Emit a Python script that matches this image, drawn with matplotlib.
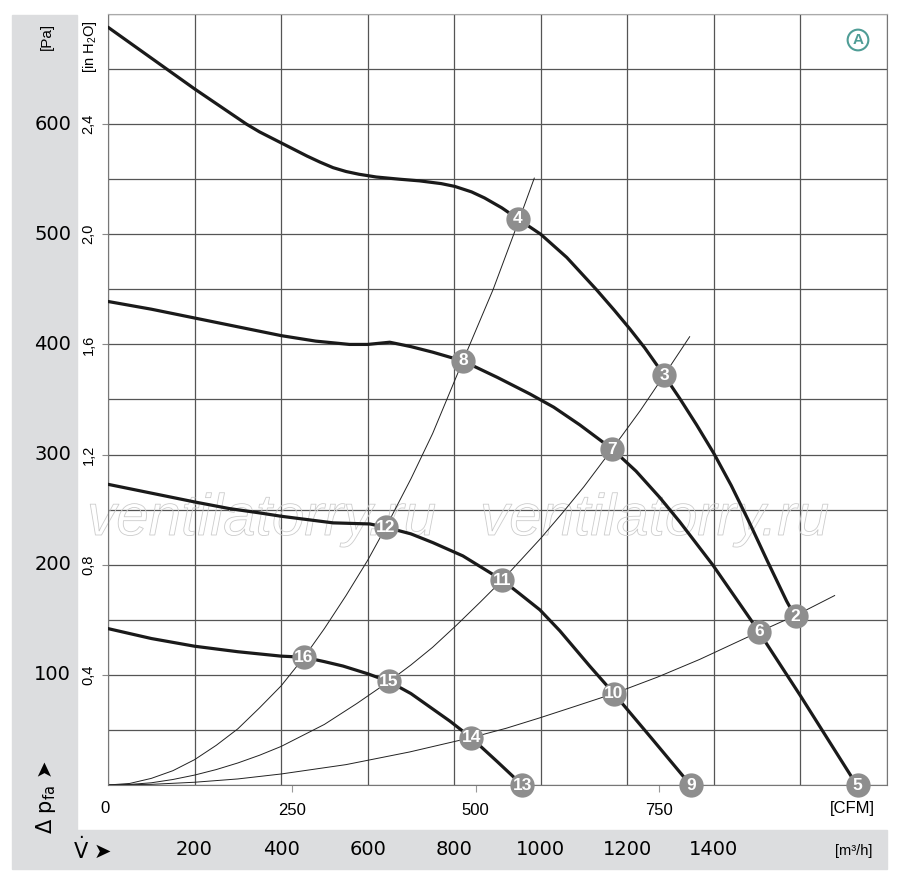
import matplotlib
matplotlib.use("Agg")
import matplotlib.pyplot as plt
import matplotlib.transforms as mtransforms
import matplotlib.patheffects as pe
from matplotlib.patches import Rectangle
from matplotlib.ticker import MultipleLocator

# fan curves, flow in m3/h, pressure in Pa
q1 = [0, 100, 200, 260, 320, 350, 380, 420, 460, 490, 520, 550, 580, 620, 674, 720, 740, 770, 801, 840,
      870, 910, 947, 1000, 1060, 1128, 1170, 1206, 1240, 1285, 1321, 1360, 1400, 1440, 1480, 1524, 1568, 1589]
p1 = [688, 660, 632, 616, 600, 593, 587, 579, 571, 565.5, 560.5, 557, 554.5, 552, 550, 548.5, 547.5, 546,
      543.5, 538.5, 533, 524, 514, 500, 479, 450, 431, 414, 397, 372, 351, 327, 301, 272, 240, 203, 167, 152]

q2 = [0, 100, 200, 300, 400, 480, 558, 600, 651, 700, 750, 820, 900, 975, 1030, 1090, 1165, 1220, 1275,
      1321, 1397, 1450, 1487, 1504, 1600, 1730]
p2 = [439, 432, 424, 416, 408, 403, 400, 400, 402, 398, 393, 385, 370, 355, 343, 327, 305, 285, 261,
      239, 200, 170, 149, 139, 81, 0]

q3 = [0, 100, 200, 280, 351, 400, 460, 520, 605, 642, 700, 751, 820, 882, 911, 950, 998, 1044, 1113,
      1169, 1259, 1346]
p3 = [273, 265, 257, 251, 247, 244, 241, 238, 237, 234, 228, 220, 208, 193, 186, 174, 159, 140, 108,
      83, 41, 0]

q4 = [0, 100, 200, 300, 400, 453, 500, 543, 600, 649, 700, 736, 790, 839, 900, 957]
p4 = [142, 133, 126, 121, 117, 116, 112, 108, 101, 94, 83, 73, 58, 43, 21, 0]

# system resistance curves
qs1 = [0, 50, 100, 150, 200, 250, 300, 350, 400, 453, 500, 550, 600, 642, 700, 750, 820, 890, 947, 985]
ps1 = [0, 1.4, 6, 13, 23, 36, 51, 70, 90, 116, 142, 172, 204, 234, 278, 319, 385, 450, 510, 551]
qs2 = [0, 50, 100, 150, 200, 250, 300, 350, 400, 450, 500, 575, 649, 700, 750, 805, 860, 911, 1000,
       1050, 1100, 1165, 1230, 1285, 1344]
ps2 = [0, 0.5, 2, 5, 9, 14, 20, 27, 35, 45, 55, 74, 94, 109, 125, 145, 166, 186, 224,
       247, 271, 305, 340, 372, 407]
qs3 = [0, 100, 200, 300, 400, 550, 697, 839, 920, 998, 1080, 1169, 1270, 1367, 1460, 1504, 1589, 1679]
ps3 = [0, 0.6, 2.5, 5.5, 10, 18.5, 30, 43, 51.5, 61, 71.5, 83, 98, 114, 131, 139, 154, 172]

# numbered operating points
pt_num = [2, 3, 4, 5, 6, 7, 8, 9, 10, 11, 12, 13, 14, 15, 16]
pt_q = [1589, 1285, 947, 1732, 1504, 1165, 820, 1347, 1169, 911, 642, 957, 839, 649, 453]
pt_p = [153, 372, 514, 0, 139, 305, 385, 0, 83, 186, 234, 0, 43, 94, 116]

pa_ticks = [100, 200, 300, 400, 500, 600]
inh2o_labels = ["0,4", "0,8", "1,2", "1,6", "2,0", "2,4"]
cfm_ticks = [250, 500, 750]
m3h_ticks = [200, 400, 600, 800, 1000, 1200, 1400]

narrow = ["Liberation Sans Narrow", "Liberation Sans", "DejaVu Sans"]
plt.rcParams["font.family"] = ["DejaVu Sans"]

W, H = 900, 880
fig = plt.figure(figsize=(9, 8.8), dpi=100)


def fx(px):
    return px / W


def fy(py):
    return 1 - py / H


band = "#dcdddf"
fig.patches.append(Rectangle((fx(12), fy(830)), fx(77) - fx(12), fy(15) - fy(830),
                             transform=fig.transFigure, color=band, zorder=-1))
fig.patches.append(Rectangle((fx(12), fy(869)), fx(887) - fx(12), fy(830) - fy(869),
                             transform=fig.transFigure, color=band, zorder=-1))

ax = fig.add_axes([fx(108), fy(785), fx(887) - fx(108), fy(14) - fy(785)])
ax.set_xlim(0, 1800)
ax.set_ylim(0, 700)

# grid
ax.xaxis.set_minor_locator(MultipleLocator(200))
ax.yaxis.set_minor_locator(MultipleLocator(50))
ax.set_yticks(pa_ticks)
ax.set_yticklabels(inh2o_labels)
ax.set_xticks([c * 1.699 for c in cfm_ticks])
ax.set_xticklabels([str(c) for c in cfm_ticks])
ax.grid(which="minor", axis="x", color="#555555", lw=0.9)
ax.grid(which="both", axis="y", color="#555555", lw=0.9)
ax.set_axisbelow(True)
ax.tick_params(which="minor", length=0)
ax.tick_params(axis="y", which="major", length=4, color="#888888", pad=5, labelsize=10.5)
ax.tick_params(axis="x", which="major", length=5, color="#999999", pad=8, labelsize=12)
for lbl in ax.get_yticklabels():
    lbl.set_rotation(90)
    lbl.set_va("center")
    lbl.set_family(narrow)
for lbl in ax.get_xticklabels():
    lbl.set_family(narrow)
for s in ["left", "right", "bottom"]:
    ax.spines[s].set_color("#777777")
ax.spines["top"].set_color("#aaaaaa")

# curves
for qs, ps in [(qs1, ps1), (qs2, ps2), (qs3, ps3)]:
    ax.plot(qs, ps, color="#222222", lw=0.7, zorder=2)
for q, p in [(q1, p1), (q2, p2), (q3, p3), (q4, p4)]:
    ax.plot(q, p, color="#1a1a1a", lw=2.3, solid_capstyle="round", solid_joinstyle="round", zorder=3)

for n, q, p in zip(pt_num, pt_q, pt_p):
    ax.plot(q, p, "o", ms=17.5, mfc="#8e8e8e", mec="none", clip_on=False, zorder=4)
    ax.text(q, p, str(n), color="white", ha="center", va="center", fontsize=12.5,
            fontweight="bold", family=narrow, zorder=5, clip_on=False)

# watermark
for cx in [262, 655]:
    ax.text(fx(cx), fy(520), "ventilatorry.ru", transform=fig.transFigure, ha="center", va="center",
            fontsize=42, style="italic", family=narrow, color=(1, 1, 1, 0), clip_on=False, zorder=1.5,
            path_effects=[pe.Stroke(linewidth=0.6, foreground="#cccccc")])

# circled A
teal = "#4f9d96"
ax.text(fx(858), fy(40), "A", transform=fig.transFigure, ha="center", va="center", fontsize=11,
        color=teal, family=narrow, fontweight="bold",
        bbox=dict(boxstyle="circle,pad=0.22", fc="white", ec=teal, lw=1.5))

# left band labels
yt = mtransforms.blended_transform_factory(fig.transFigure, ax.transData)
for v in pa_ticks:
    ax.text(fx(71), v, str(v), transform=yt, ha="right", va="center", fontsize=14, clip_on=False)
fig.text(fx(47), fy(36), "[Pa]", rotation=90, ha="center", va="center", fontsize=11, family=narrow)
fig.text(fx(90), fy(47), r"[in H$_\mathregular{2}$O]", rotation=90, ha="center", va="center",
         fontsize=10.5, family=narrow)
fig.text(fx(46), fy(797), r"Δ p$_\mathregular{fa}$ ➤", rotation=90, ha="center", va="center",
         fontsize=15, family=["DejaVu Sans"])

# bottom labels
fig.text(fx(105), fy(808), "0", ha="center", va="center", fontsize=12, family=narrow)
fig.text(fx(875), fy(808), "[CFM]", ha="right", va="center", fontsize=12, family=narrow)
xt = mtransforms.blended_transform_factory(ax.transData, fig.transFigure)
for v in m3h_ticks:
    ax.text(v, fy(849), str(v), transform=xt, ha="center", va="center", fontsize=14, clip_on=False)
fig.text(fx(93), fy(849), r"$\dot{\mathregular{V}}$ ➤", ha="center", va="center", fontsize=15)
fig.text(fx(872), fy(851), "[m³/h]", ha="right", va="center", fontsize=10.5, family=narrow)

fig.savefig("out.png", dpi=100)
